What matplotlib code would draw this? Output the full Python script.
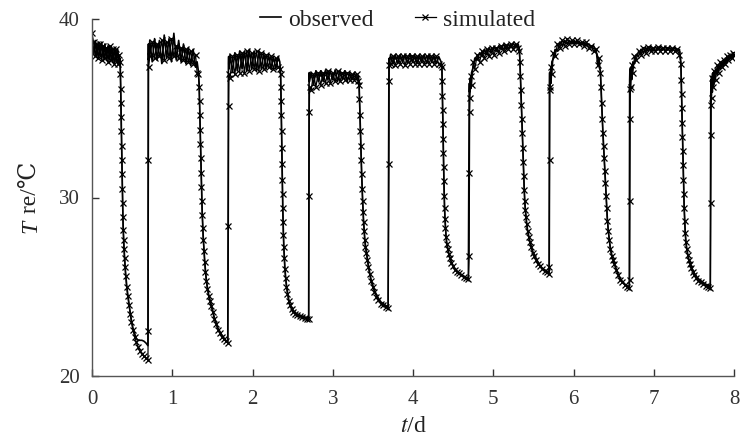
import matplotlib
matplotlib.use("Agg")
import matplotlib.pyplot as plt

plt.rcParams['font.family'] = ['Liberation Serif', 'DejaVu Serif', 'DejaVu Sans', 'Noto Sans CJK SC']
plt.rcParams['mathtext.fontset'] = 'stix'

#%% Data (t in days, rectal temperature in degC)
# cycle 1
t1 = [0.00, 0.02, 0.04, 0.06, 0.08, 0.10, 0.12, 0.14, 0.16, 0.18, 0.20, 0.22, 0.24, 0.26, 0.28, 0.30, 0.32, 0.34,
      0.350, 0.354, 0.357, 0.360, 0.363, 0.366, 0.369, 0.372, 0.375, 0.378, 0.381, 0.385, 0.389, 0.394, 0.399, 0.405,
      0.412, 0.420, 0.432, 0.445, 0.460, 0.475, 0.492, 0.510, 0.530, 0.552, 0.575, 0.598, 0.622, 0.647, 0.672, 0.697]
obs1 = [38.9, 38.0, 38.8, 37.9, 38.7, 37.9, 38.7, 37.8, 38.6, 37.8, 38.5, 37.7, 38.5, 37.6, 38.4, 37.6, 38.3, 37.5,
        37.8, 37.0, 36.3, 35.4, 34.6, 33.8, 33.0, 32.2, 31.4, 30.6, 29.8, 29.0, 28.3, 27.7, 27.2, 26.7,
        26.2, 25.7, 25.1, 24.6, 24.1, 23.6, 23.1, 22.7, 22.4, 22.1, 22.0, 22.0, 22.0, 21.95, 21.85, 21.7]
sim1 = [39.2, 38.7, 37.9, 38.6, 37.8, 38.6, 37.7, 38.5, 37.8, 38.4, 37.6, 38.5, 37.7, 38.3, 37.5, 38.3, 37.5, 38.0,
        37.6, 36.9, 36.1, 35.3, 34.5, 33.7, 32.9, 32.1, 31.3, 30.5, 29.7, 28.9, 28.2, 27.6, 27.1, 26.6,
        26.1, 25.6, 25.0, 24.5, 24.0, 23.5, 23.0, 22.6, 22.2, 21.9, 21.6, 21.4, 21.25, 21.1, 21.0, 20.9]

# cycle 2
t2 = [0.700, 0.703, 0.706,
      0.72, 0.75, 0.78, 0.81, 0.84, 0.87, 0.90, 0.93, 0.96, 0.99, 1.02, 1.05, 1.08, 1.11, 1.14, 1.17, 1.20, 1.23, 1.26, 1.29, 1.31,
      1.325, 1.335, 1.340, 1.344, 1.348, 1.352, 1.356, 1.360, 1.364, 1.369, 1.374, 1.380, 1.387, 1.395, 1.404,
      1.414, 1.425, 1.437, 1.452, 1.468, 1.485, 1.503, 1.523, 1.545, 1.568, 1.592, 1.617, 1.642, 1.667, 1.692]
obs2 = [38.0, 38.6, 37.7,
        38.8, 37.6, 38.9, 37.7, 38.8, 37.5, 39.1, 37.8, 38.9, 37.6, 39.2, 37.7, 38.8, 37.6, 38.6, 37.5, 38.4, 37.4, 38.3, 37.3, 37.6,
        37.1, 36.4, 35.5, 34.7, 33.9, 33.1, 32.3, 31.5, 30.7, 29.9, 29.1, 28.4, 27.7, 27.1, 26.5,
        25.9, 25.4, 25.0, 24.6, 24.3, 24.0, 23.7, 23.3, 23.0, 22.7, 22.5, 22.3, 22.15, 22.0, 21.9]
sim2 = [22.5, 32.1, 37.3,
        37.9, 38.7, 37.8, 38.6, 37.9, 38.8, 37.7, 38.7, 37.8, 38.9, 37.9, 38.5, 37.8, 38.4, 37.7, 38.3, 37.6, 38.2, 37.5, 38.0, 37.0,
        36.9, 36.2, 35.4, 34.6, 33.8, 33.0, 32.2, 31.4, 30.6, 29.8, 29.0, 28.3, 27.6, 27.0, 26.4,
        25.8, 25.3, 24.9, 24.5, 24.2, 23.9, 23.6, 23.2, 22.9, 22.6, 22.4, 22.2, 22.05, 21.95, 21.85]

# cycle 3
t3 = [1.700, 1.703, 1.706,
      1.72, 1.75, 1.78, 1.81, 1.84, 1.87, 1.90, 1.93, 1.96, 1.99, 2.02, 2.05, 2.08, 2.11, 2.14, 2.17, 2.20, 2.23, 2.26, 2.29, 2.32, 2.34,
      2.350, 2.353, 2.356, 2.359, 2.362, 2.365, 2.368, 2.371, 2.374, 2.377, 2.381, 2.385, 2.390, 2.396, 2.403,
      2.412, 2.423, 2.436, 2.451, 2.468, 2.488, 2.510, 2.535, 2.560, 2.590, 2.620, 2.650, 2.680, 2.700]
obs3 = [37.5, 37.9, 37.2,
        38.0, 37.0, 38.1, 37.1, 38.2, 37.2, 38.2, 37.1, 38.3, 37.2, 38.2, 37.1, 38.2, 37.2, 38.1, 37.2, 38.0, 37.2, 37.9, 37.2, 37.9, 37.6,
        37.0, 36.3, 35.5, 34.7, 33.8, 32.9, 32.0, 31.1, 30.3, 29.5, 28.7, 28.0, 27.3, 26.7, 26.1,
        25.6, 25.1, 24.7, 24.3, 24.0, 23.8, 23.65, 23.55, 23.45, 23.4, 23.35, 23.3, 23.25, 23.25]
sim3 = [28.4, 35.1, 36.9,
        36.7, 37.9, 36.9, 38.0, 37.0, 38.1, 37.0, 38.2, 37.1, 38.1, 37.2, 38.2, 37.1, 38.1, 37.2, 38.0, 37.3, 37.9, 37.2, 37.8, 37.3, 37.2,
        36.9, 36.2, 35.4, 34.6, 33.7, 32.8, 31.9, 31.0, 30.2, 29.4, 28.6, 27.9, 27.2, 26.6, 26.0,
        25.5, 25.0, 24.6, 24.2, 23.95, 23.75, 23.6, 23.5, 23.4, 23.35, 23.3, 23.25, 23.2, 23.2]

# cycle 4
t4 = [2.705, 2.708, 2.711,
      2.73, 2.76, 2.79, 2.82, 2.85, 2.88, 2.91, 2.94, 2.97, 3.00, 3.03, 3.06, 3.09, 3.12, 3.15, 3.18, 3.21, 3.24, 3.27, 3.30, 3.32,
      3.328, 3.333, 3.338, 3.343, 3.348, 3.354, 3.360, 3.366, 3.372, 3.378, 3.384, 3.391, 3.399, 3.408,
      3.418, 3.430, 3.444, 3.460, 3.478, 3.498, 3.520, 3.545, 3.570, 3.600, 3.630, 3.660, 3.690]
obs4 = [36.8, 37.0, 36.5,
        37.0, 36.3, 37.1, 36.5, 37.1, 36.5, 37.15, 36.6, 37.1, 36.6, 37.15, 36.5, 37.1, 36.6, 37.1, 36.5, 37.0, 36.6, 37.0, 36.6, 36.8,
        36.4, 35.6, 34.7, 33.8, 33.0, 32.2, 31.4, 30.6, 29.9, 29.3, 28.7, 28.2, 27.7, 27.3,
        27.0, 26.6, 26.2, 25.8, 25.4, 25.1, 24.8, 24.55, 24.35, 24.15, 24.05, 23.95, 23.9]
sim4 = [30.1, 34.8, 36.2,
        36.0, 36.9, 36.2, 37.0, 36.3, 37.0, 36.4, 37.1, 36.4, 37.0, 36.5, 37.1, 36.5, 37.0, 36.6, 37.0, 36.6, 36.9, 36.6, 36.9, 36.5,
        36.3, 35.5, 34.6, 33.7, 32.9, 32.1, 31.3, 30.5, 29.8, 29.2, 28.6, 28.1, 27.6, 27.2,
        26.9, 26.5, 26.1, 25.7, 25.3, 25.0, 24.7, 24.45, 24.25, 24.05, 23.95, 23.85, 23.8]

# cycle 5
t5 = [3.700, 3.703, 3.706,
      3.72, 3.75, 3.78, 3.81, 3.84, 3.87, 3.90, 3.93, 3.96, 3.99, 4.02, 4.05, 4.08, 4.11, 4.14, 4.17, 4.20, 4.23, 4.26, 4.29, 4.32, 4.35,
      4.360, 4.363, 4.366, 4.369, 4.372, 4.375, 4.378, 4.381, 4.385, 4.389, 4.393, 4.398, 4.404, 4.411,
      4.420, 4.432, 4.445, 4.460, 4.478, 4.498, 4.520, 4.545, 4.570, 4.600, 4.630, 4.660, 4.690]
obs5 = [37.6, 37.8, 37.5,
        38.0, 37.5, 38.0, 37.5, 38.0, 37.6, 38.0, 37.5, 38.05, 37.6, 38.0, 37.5, 38.0, 37.6, 38.0, 37.5, 38.0, 37.6, 37.95, 37.5, 37.9, 37.6,
        37.4, 36.6, 35.8, 35.0, 34.2, 33.4, 32.6, 31.8, 31.0, 30.2, 29.5, 28.9, 28.4, 27.9,
        27.5, 27.2, 26.9, 26.65, 26.4, 26.2, 26.0, 25.9, 25.8, 25.7, 25.6, 25.5, 25.4]
sim5 = [31.9, 36.5, 37.4,
        37.5, 37.9, 37.4, 37.9, 37.5, 37.95, 37.4, 37.9, 37.5, 37.95, 37.5, 37.9, 37.5, 37.9, 37.5, 37.95, 37.5, 37.9, 37.5, 37.9, 37.5, 37.4,
        37.3, 36.5, 35.7, 34.9, 34.1, 33.3, 32.5, 31.7, 30.9, 30.1, 29.4, 28.8, 28.3, 27.8,
        27.4, 27.1, 26.85, 26.6, 26.35, 26.15, 25.95, 25.85, 25.75, 25.65, 25.55, 25.5, 25.45]

# cycle 6
t6 = [4.700, 4.703, 4.706,
      4.71, 4.72, 4.73, 4.75, 4.77, 4.80, 4.83, 4.86, 4.89, 4.92, 4.95, 4.98, 5.01, 5.04, 5.07, 5.10, 5.13, 5.16, 5.19, 5.22, 5.25, 5.28, 5.31,
      5.325, 5.332, 5.338, 5.344, 5.350, 5.356, 5.362, 5.368, 5.374, 5.380, 5.386, 5.392, 5.399, 5.407,
      5.416, 5.427, 5.440, 5.455, 5.472, 5.490, 5.510, 5.532, 5.556, 5.582, 5.610, 5.640, 5.670, 5.695]
obs6 = [35.8, 36.4, 35.9,
        36.6, 36.1, 37.0, 37.3, 37.8, 37.7, 38.1, 37.9, 38.3, 38.0, 38.4, 38.1, 38.45, 38.2, 38.5, 38.3, 38.6, 38.3, 38.6, 38.4, 38.65, 38.4, 38.6,
        38.3, 37.7, 36.9, 36.1, 35.3, 34.5, 33.7, 32.9, 32.1, 31.3, 30.5, 29.9, 29.4, 29.0,
        28.6, 28.2, 27.9, 27.6, 27.3, 27.0, 26.8, 26.6, 26.4, 26.2, 26.05, 25.95, 25.85, 25.75]
sim6 = [26.7, 31.4, 34.8,
        35.6, 36.8, 36.3, 37.6, 37.2, 38.0, 37.6, 38.2, 37.8, 38.3, 37.9, 38.4, 38.0, 38.4, 38.1, 38.5, 38.2, 38.55, 38.3, 38.6, 38.3, 38.6, 38.4,
        38.2, 37.6, 36.8, 36.0, 35.2, 34.4, 33.6, 32.8, 32.0, 31.2, 30.4, 29.8, 29.3, 28.9,
        28.5, 28.1, 27.8, 27.5, 27.2, 26.9, 26.7, 26.5, 26.3, 26.15, 26.0, 25.9, 25.8, 25.7]

# cycle 7
t7 = [5.700, 5.703, 5.706,
      5.71, 5.72, 5.73, 5.75, 5.77, 5.80, 5.83, 5.86, 5.89, 5.92, 5.95, 5.98, 6.01, 6.04, 6.07, 6.10, 6.13, 6.16, 6.19, 6.22, 6.25, 6.28, 6.30, 6.32,
      6.335, 6.342, 6.350, 6.358, 6.366, 6.374, 6.382, 6.390, 6.398, 6.405, 6.413, 6.422, 6.433,
      6.445, 6.459, 6.474, 6.490, 6.510, 6.532, 6.556, 6.582, 6.610, 6.640, 6.670, 6.695]
obs7 = [36.5, 37.0, 36.3,
        37.0, 36.4, 37.6, 37.8, 38.3, 38.2, 38.7, 38.5, 38.8, 38.6, 38.8, 38.6, 38.8, 38.6, 38.75, 38.55, 38.7, 38.5, 38.6, 38.4, 38.5, 38.2, 37.9, 37.3,
        37.1, 36.3, 35.4, 34.5, 33.7, 33.0, 32.3, 31.6, 30.9, 30.2, 29.5, 28.8, 28.2,
        27.7, 27.2, 26.85, 26.6, 26.3, 26.0, 25.7, 25.45, 25.3, 25.15, 25.05, 25.0]
sim7 = [26.1, 32.1, 36.0,
        36.2, 37.3, 36.9, 38.1, 37.9, 38.6, 38.4, 38.8, 38.5, 38.9, 38.6, 38.8, 38.6, 38.8, 38.6, 38.7, 38.5, 38.7, 38.4, 38.5, 38.2, 38.3, 37.4, 37.8,
        37.0, 36.2, 35.3, 34.4, 33.6, 32.9, 32.2, 31.5, 30.8, 30.1, 29.4, 28.7, 28.1,
        27.6, 27.1, 26.75, 26.5, 26.25, 25.95, 25.65, 25.4, 25.25, 25.1, 25.0, 24.95]

# cycle 8
t8 = [6.700, 6.703, 6.706, 6.709,
      6.715, 6.725, 6.74, 6.76, 6.78, 6.81, 6.84, 6.87, 6.90, 6.93, 6.96, 6.99, 7.02, 7.05, 7.08, 7.11, 7.14, 7.17, 7.20, 7.23, 7.26, 7.29, 7.32,
      7.338, 7.342, 7.346, 7.350, 7.354, 7.358, 7.362, 7.366, 7.370, 7.374, 7.379, 7.385, 7.392, 7.400,
      7.410, 7.421, 7.434, 7.449, 7.466, 7.485, 7.506, 7.530, 7.556, 7.584, 7.614, 7.645, 7.675, 7.705]
obs8 = [36.6, 37.2, 36.3, 37.0,
        37.3, 36.6, 37.6, 37.5, 38.0, 37.9, 38.3, 38.1, 38.4, 38.2, 38.45, 38.2, 38.45, 38.25, 38.45, 38.25, 38.45, 38.25, 38.4, 38.2, 38.4, 38.2, 38.3,
        37.6, 36.7, 35.9, 35.1, 34.3, 33.5, 32.7, 31.9, 31.1, 30.3, 29.5, 28.8, 28.1, 27.6,
        27.2, 26.9, 26.6, 26.4, 26.15, 25.95, 25.75, 25.6, 25.45, 25.35, 25.25, 25.15, 25.1, 25.05]
sim8 = [25.4, 29.8, 34.4, 36.1,
        36.2, 37.4, 37.0, 37.9, 37.7, 38.2, 38.0, 38.4, 38.1, 38.45, 38.2, 38.4, 38.2, 38.45, 38.2, 38.4, 38.2, 38.4, 38.2, 38.35, 38.2, 38.3, 38.0,
        37.5, 36.6, 35.8, 35.0, 34.2, 33.4, 32.6, 31.8, 31.0, 30.2, 29.4, 28.7, 28.0, 27.5,
        27.1, 26.8, 26.5, 26.3, 26.05, 25.85, 25.65, 25.5, 25.35, 25.25, 25.15, 25.05, 25.0, 24.95]

# cycle 9 (cut at t = 8 d)
t9 = [7.710, 7.713, 7.716,
      7.72, 7.73, 7.74, 7.75, 7.77, 7.79, 7.81, 7.83, 7.85, 7.87, 7.89, 7.91, 7.93, 7.95, 7.97, 7.99, 8.00]
obs9 = [35.6, 36.6, 35.5,
        36.8, 35.9, 37.0, 36.3, 37.2, 36.9, 37.4, 37.2, 37.6, 37.4, 37.8, 37.6, 37.9, 37.8, 38.0, 37.9, 38.1]
sim9 = [29.7, 33.5, 35.2,
        35.6, 36.7, 36.2, 37.1, 36.6, 37.4, 37.0, 37.6, 37.3, 37.7, 37.5, 37.9, 37.7, 38.0, 37.8, 38.1, 38.0]

t_all = t1 + t2 + t3 + t4 + t5 + t6 + t7 + t8 + t9
obs_all = obs1 + obs2 + obs3 + obs4 + obs5 + obs6 + obs7 + obs8 + obs9
sim_all = sim1 + sim2 + sim3 + sim4 + sim5 + sim6 + sim7 + sim8 + sim9

x_ticks = [0, 1, 2, 3, 4, 5, 6, 7, 8]
y_ticks = [20, 30, 40]

#%% Plot
W, H = 740, 443
fig = plt.figure(figsize=(W / 100, H / 100), dpi=100)
ax = fig.add_axes([92 / W, 1 - 376 / H, (734 - 92) / W, (376 - 19) / H])

ax.plot(t_all, obs_all, '-', color='black', lw=1.2, label='observed')
ax.plot(t_all, sim_all, '-', color='black', lw=0.9, marker='x', ms=5, mew=0.9,
        label='simulated')

ax.set_xlim(0, 8)
ax.set_ylim(20, 40)
ax.set_xticks(x_ticks)
ax.set_yticks(y_ticks)
ax.tick_params(direction='in', length=5, width=1, labelsize=15, colors='#333333')
ax.tick_params(axis='x', pad=10)
ax.tick_params(axis='y', pad=9)
for s in ['top', 'right']:
    ax.spines[s].set_visible(False)
for s in ['left', 'bottom']:
    ax.spines[s].set_color('#555555')
    ax.spines[s].set_linewidth(1.0)

ax.set_xlabel('$t$/d', fontsize=17, labelpad=5, color='#222222')

# y label: italic T followed by " re/℃" (℃ needs a font that has the glyph)
fig.canvas.draw()
renderer = fig.canvas.get_renderer()
yl_x = 36 / W
t_lab = fig.text(yl_x, 1 - 233 / H, 'T', rotation=90, rotation_mode='anchor',
                 ha='left', va='baseline', fontsize=17, style='italic',
                 color='#222222')
bb = t_lab.get_window_extent(renderer)
fig.text(yl_x, bb.y1 / H + 1 / H, ' re/℃', rotation=90, rotation_mode='anchor',
         ha='left', va='baseline', fontsize=17, color='#222222')

fig.legend(loc='center', bbox_to_anchor=(0.537, 1 - 20 / H), ncol=2, frameon=False,
           fontsize=17, handlelength=0.9, handletextpad=0.3, columnspacing=1.75,
           borderaxespad=0, labelcolor='#222222')

plt.savefig('out.png', dpi=100)
